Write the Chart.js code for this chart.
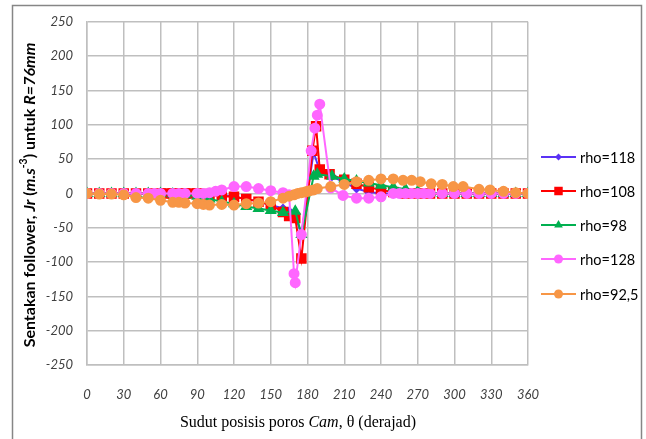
<!DOCTYPE html>
<html>
<head>
<meta charset="utf-8">
<script src="https://cdn.jsdelivr.net/npm/chart.js@4/dist/chart.umd.min.js"></script>
<style>
  html, body { margin: 0; padding: 0; background: #fff; }
  #wrap { position: relative; width: 646px; height: 439px; }
</style>
</head>
<body>
<div id="wrap"><canvas id="chart" width="646" height="439"></canvas></div>
<script>
// Sudut (derajad) dan sentakan Jr untuk tiap rho
const degBlue = [0,10,20,30,40,50,60,70,80,90,100,110,120,130,140,150,160,165,170,175,185,190,200,210,220,230,240,250,260,270,280,290,300,310,320,330,340,350,360];
const jrBlue  = [0,0,0,0,0,0,0,0,0,0,-1,-2,-5,-8,-12,-17,-22,-26,-32,-60,60,33,25,16,7,2,0,0,0,0,0,0,0,0,0,0,0,0,0];

const degRed = [0,10,20,30,40,50,60,65,70,75,80,85,90,95,100,110,120,130,140,150,160,165,170,175,184,187,190,198,210,220,230,240,250,260,270,280,290,300,310,320,330,340,350,360];
const jrRed  = [0,0,0,0,0,0,0,0,0,0,0,0,0,-1,-2,-4,-5,-8,-12,-17,-27,-33,-36,-95,62,98,35,28,20,14,9,5,2,0,0,0,0,0,0,0,0,0,0,0];

const degGreen = [0,10,20,30,40,50,60,70,80,90,100,110,120,130,140,150,160,170,175,185,188,200,210,220,230,240,250,260,270,280,290,300,310,320,330,340,350,360];
const jrGreen  = [0,0,0,0,0,0,0,-1,-2,-4,-8,-12,-15,-19,-22,-25,-28,-26,-60,25,28,25,21,18,15,12,9,6,3,1,0,0,0,0,0,0,0,0];

const degPink = [0,10,20,30,40,50,55,60,70,75,80,90,95,100,105,110,120,130,140,150,160,165,169,170,175,183,186,188,190,199,209,220,230,240,250,255,260,265,270,275,280,290,300,310,320,330,340,350,360];
const jrPink  = [0,0,0,0,0,0,0,0,0,0,0,0,0,1,3,5,10,10,7,4,1,-2,-117,-130,-60,62,95,114,130,8,-3,-7,-7,-5,0,0,0,0,0,0,0,0,0,0,0,0,0,0,0];

const degOrange = [0,10,20,30,40,50,60,70,75,80,90,95,100,110,120,130,140,150,160,165,169,172,175,178,180,182,185,188,199,210,220,230,240,250,258,265,272,281,290,299,307,320,329,340,350,360];
const jrOrange  = [0,-1,-1,-2,-6,-7,-10,-13,-13,-14,-15,-16,-17,-16,-17,-15,-14,-12,-7,-4,-2,0,1,2,3,4,5,7,10,13,17,19,21,21,19,19,17,14,13,10,10,6,5,3,1,0];

const seriesLabels = ['rho=118', 'rho=108', 'rho=98', 'rho=128', 'rho=92,5'];
const xTicks = [0,30,60,90,120,150,180,210,240,270,300,330,360];
const yTicks = [-250,-200,-150,-100,-50,0,50,100,150,200,250];

function pts(xs, ys) {
  return xs.map((x, i) => ({ x: x, y: ys[i] }));
}

const styles = [
  { color: '#5a32f5', style: 'rectRot', radius: 3.5 },
  { color: '#ff0000', style: 'rect', radius: 6 },
  { color: '#00b050', style: 'triangle', radius: 5 },
  { color: '#ff66ff', style: 'circle', radius: 4.5 },
  { color: '#f79646', style: 'circle', radius: 4.5 }
];
const allData = [pts(degBlue, jrBlue), pts(degRed, jrRed), pts(degGreen, jrGreen), pts(degPink, jrPink), pts(degOrange, jrOrange)];

const datasets = allData.map((d, i) => ({
  label: seriesLabels[i],
  data: d,
  borderColor: styles[i].color,
  backgroundColor: styles[i].color,
  pointBackgroundColor: styles[i].color,
  pointBorderColor: styles[i].color,
  pointStyle: styles[i].style,
  pointRadius: styles[i].radius,
  borderWidth: 2,
  tension: 0,
  order: 5 - i
}));

function drawMarker(ctx, style, r, x, y) {
  ctx.beginPath();
  if (style === 'circle') {
    ctx.arc(x, y, r, 0, Math.PI * 2);
  } else if (style === 'rect') {
    const s = r * Math.SQRT1_2;
    ctx.rect(x - s, y - s, 2 * s, 2 * s);
  } else if (style === 'rectRot') {
    ctx.moveTo(x, y - r); ctx.lineTo(x + r, y); ctx.lineTo(x, y + r); ctx.lineTo(x - r, y); ctx.closePath();
  } else if (style === 'triangle') {
    ctx.moveTo(x, y - r); ctx.lineTo(x + r * 0.87, y + r * 0.5); ctx.lineTo(x - r * 0.87, y + r * 0.5); ctx.closePath();
  }
  ctx.fill();
}

function drawRich(ctx, segs, size, family, cx, cy) {
  // measure
  let total = 0;
  segs.forEach(s => {
    ctx.font = (s.i ? 'italic ' : '') + (s.b ? 'bold ' : '') + (s.sup ? size * 0.65 : size) + 'px ' + family;
    s.w = ctx.measureText(s.t).width;
    total += s.w;
  });
  let x = cx - total / 2;
  segs.forEach(s => {
    ctx.font = (s.i ? 'italic ' : '') + (s.b ? 'bold ' : '') + (s.sup ? size * 0.65 : size) + 'px ' + family;
    ctx.fillText(s.t, x, s.sup ? cy - size * 0.38 : cy);
    x += s.w;
  });
}

const extras = {
  id: 'extras',
  afterDraw(chart) {
    const ctx = chart.ctx;
    ctx.save();
    // chart area border
    ctx.strokeStyle = '#868686';
    ctx.lineWidth = 1.5;
    ctx.strokeRect(12.5, 5.5, 629, 440);

    // y title
    ctx.fillStyle = '#000';
    ctx.textBaseline = 'middle';
    ctx.textAlign = 'left';
    ctx.save();
    ctx.translate(30, 195);
    ctx.rotate(-Math.PI / 2);
    drawRich(ctx, [
      { t: 'Sentakan follower, ', b: true },
      { t: 'Jr', b: true, i: true },
      { t: ' (', b: true },
      { t: 'm.s', b: true, i: true },
      { t: '-3', b: true, sup: true },
      { t: ') untuk ', b: true },
      { t: 'R=76mm', b: true, i: true }
    ], 16, 'Lato', 0, 0);
    ctx.restore();

    // x title
    drawRich(ctx, [
      { t: 'Sudut posisis poros ' },
      { t: 'Cam', i: true },
      { t: ', \u03b8 (derajad)' }
    ], 16, '"Liberation Serif"', 298, 423);

    // legend
    const rows = [157, 191, 225, 259, 294];
    chart.data.datasets.forEach((ds, i) => {
      const y = rows[i];
      ctx.strokeStyle = styles[i].color;
      ctx.fillStyle = styles[i].color;
      ctx.lineWidth = 2;
      ctx.beginPath();
      ctx.moveTo(541, y); ctx.lineTo(576, y);
      ctx.stroke();
      drawMarker(ctx, styles[i].style, styles[i].radius, 558.5, y);
      ctx.fillStyle = '#000';
      ctx.font = '14.5px Lato';
      ctx.textAlign = 'left';
      ctx.fillText(ds.label, 580, y + 1);
    });
    ctx.restore();
  }
};

new Chart(document.getElementById('chart'), {
  type: 'line',
  data: { datasets: datasets },
  options: {
    responsive: false,
    animation: false,
    layout: { padding: { left: 0, right: 118, top: 17, bottom: 0 } },
    plugins: {
      legend: { display: false },
      tooltip: { enabled: false }
    },
    scales: {
      x: {
        type: 'linear',
        min: 0,
        max: 360,
        afterBuildTicks: scale => { scale.ticks = xTicks.map(v => ({ value: v })); },
        afterFit: scale => { scale.height = 74; },
        grid: { color: '#bfbfbf', lineWidth: 1.5, drawTicks: false },
        border: { color: '#bfbfbf', width: 1.5 },
        ticks: {
          padding: 22,
          maxRotation: 0,
          color: '#404040',
          font: { family: 'Lato', size: 13, style: 'italic' }
        }
      },
      y: {
        type: 'linear',
        min: -250,
        max: 250,
        afterBuildTicks: scale => { scale.ticks = yTicks.map(v => ({ value: v })); },
        afterFit: scale => { scale.width = 87; },
        grid: { color: '#bfbfbf', lineWidth: 1.5, drawTicks: false },
        border: { color: '#bfbfbf', width: 1.5 },
        ticks: {
          padding: 14,
          color: '#404040',
          font: { family: 'Lato', size: 13, style: 'italic' }
        }
      }
    }
  },
  plugins: [extras]
});
</script>
</body>
</html>
